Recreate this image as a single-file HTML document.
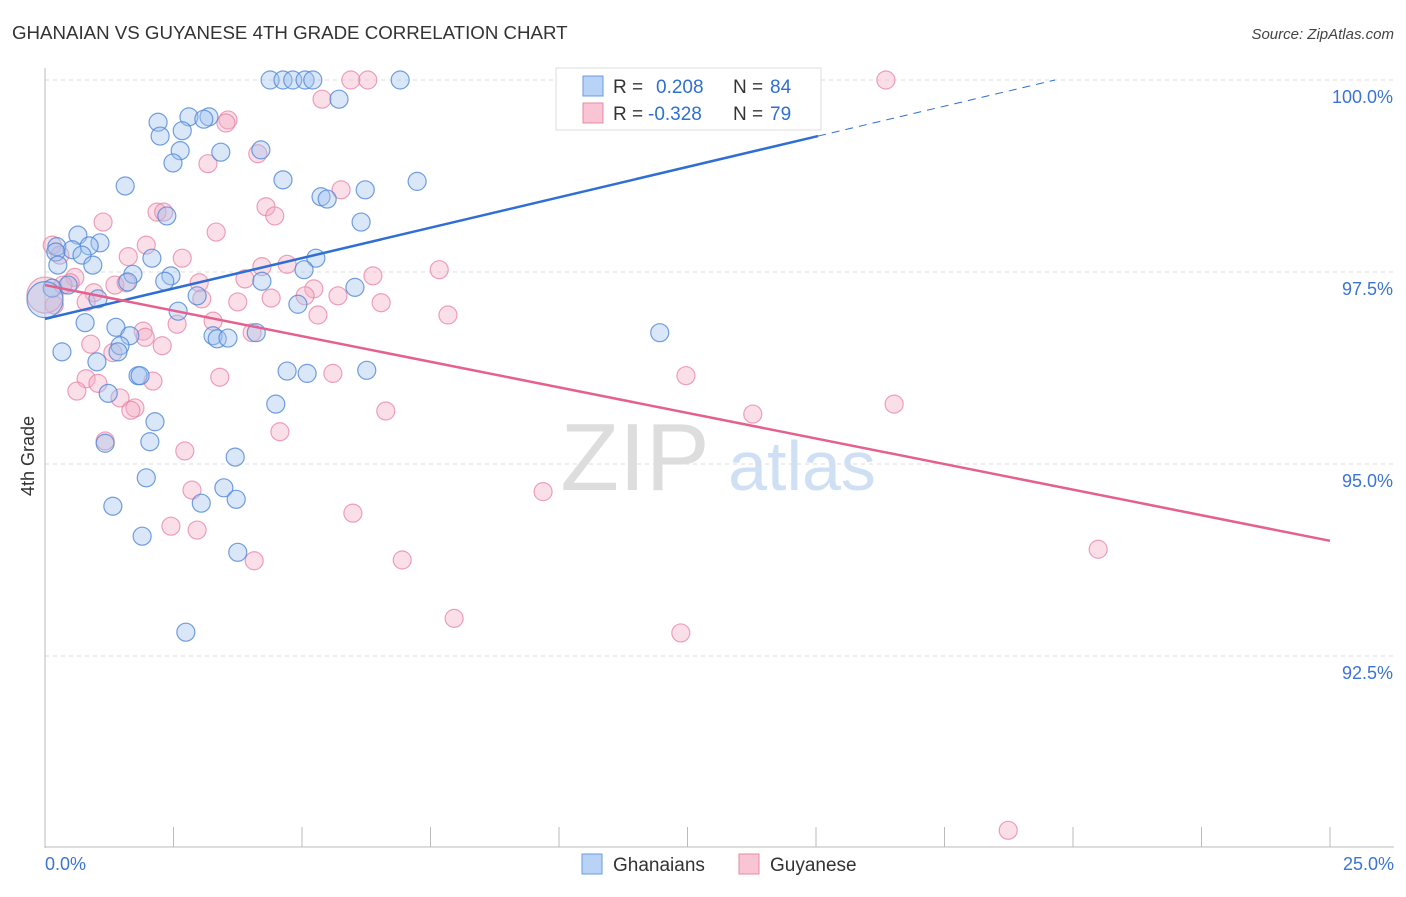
<!DOCTYPE html>
<html><head><meta charset="utf-8"><style>
body{margin:0;background:#fff;font-family:"Liberation Sans",sans-serif}
svg text{font-family:"Liberation Sans",sans-serif}
</style></head><body>
<svg id="chart" width="1406" height="892" xmlns="http://www.w3.org/2000/svg">
<text x="12" y="39" font-size="18.7" fill="#333">GHANAIAN VS GUYANESE 4TH GRADE CORRELATION CHART</text>
<text x="1394" y="39" font-size="15" fill="#444" text-anchor="end" font-style="italic">Source: ZipAtlas.com</text>
<g>
<text x="635" y="490" font-size="96" fill="#ddd" text-anchor="middle" font-family="Liberation Serif">ZIP</text>
<text x="802" y="490" font-size="70" fill="#cfe0f5" text-anchor="middle">atlas</text>
</g>
<g id="grid"></g><g id="xaxis"></g><g id="yaxis"></g>
<g id="pinkDots"></g><g id="blueDots"></g><g id="lines"></g>
<text transform="translate(34,456) rotate(-90)" font-size="18" fill="#333" text-anchor="middle">4th Grade</text>
<g>
<rect x="556" y="68" width="265" height="62" fill="#fff" stroke="#ddd"/>
<rect x="583" y="76" width="20" height="20" fill="#b8d3f5" stroke="#6a9be0"/>
<rect x="583" y="103" width="20" height="20" fill="#f9c4d4" stroke="#e88aa8"/>
<text x="613" y="93" font-size="19" fill="#333">R = </text><text x="656" y="93" font-size="19" fill="#2f6fd4">0.208</text>
<text x="733" y="93" font-size="19" fill="#333">N = </text><text x="770" y="93" font-size="19" fill="#2f6fd4">84</text>
<text x="613" y="120" font-size="19" fill="#333">R = </text><text x="648" y="120" font-size="19" fill="#2f6fd4">-0.328</text>
<text x="733" y="120" font-size="19" fill="#333">N = </text><text x="770" y="120" font-size="19" fill="#2f6fd4">79</text>
</g>
<g>
<rect x="582" y="854" width="20" height="20" fill="#b8d3f5" stroke="#6a9be0"/>
<text x="613" y="871" font-size="19" fill="#333">Ghanaians</text>
<rect x="739" y="854" width="20" height="20" fill="#f9c4d4" stroke="#e88aa8"/>
<text x="770" y="871" font-size="19" fill="#333">Guyanese</text>
</g>
</svg>
<script>
const blueX=[4.38,4.63,4.82,5.06,5.21,6.91,5.72,2.80,3.19,3.09,2.20,2.67,2.24,2.63,3.42,4.20,2.49,4.63,7.24,1.56,6.23,5.37,5.49,2.37,6.15,0.64,0.23,0.53,1.07,0.86,0.21,0.72,2.08,5.27,0.93,0.25,1.71,2.45,2.33,5.04,4.22,6.03,1.61,0.45,0.14,1.03,2.96,4.92,2.59,0.78,1.38,1.65,3.27,3.35,3.56,4.11,11.96,0.33,1.46,1.42,1.01,4.71,5.10,6.26,1.81,1.85,1.23,4.49,2.14,2.04,1.17,3.70,1.97,3.48,3.72,3.04,1.32,1.89,3.75,2.74,0.0];
const blueY=[100,100,100,100,100,100,99.75,99.52,99.52,99.49,99.45,99.34,99.27,99.08,99.06,99.09,98.92,98.70,98.68,98.62,98.57,98.48,98.45,98.23,98.15,97.98,97.83,97.79,97.88,97.84,97.76,97.72,97.68,97.68,97.59,97.59,97.47,97.45,97.38,97.53,97.38,97.30,97.37,97.33,97.29,97.15,97.19,97.08,96.99,96.84,96.78,96.67,96.67,96.63,96.64,96.71,96.71,96.46,96.54,96.46,96.33,96.21,96.18,96.22,96.15,96.15,95.92,95.78,95.55,95.29,95.27,95.09,94.82,94.69,94.54,94.49,94.45,94.06,93.85,92.81,97.14];
const pinkX=[5.95,6.28,16.36,5.39,3.56,3.52,4.14,3.17,5.76,4.30,2.18,2.31,4.47,1.13,3.33,0.14,1.97,0.29,1.62,2.67,4.22,4.71,7.67,6.38,3.89,3.00,0.58,0.49,0.35,1.36,1.58,5.23,0.95,5.70,5.06,4.40,3.05,3.75,6.54,0.80,0.18,5.31,7.84,3.27,2.57,1.91,4.03,1.95,0.89,2.28,1.32,3.40,5.60,12.47,0.80,1.03,2.10,0.62,1.46,1.75,1.67,6.63,13.77,16.52,4.57,1.17,2.72,2.86,9.69,5.99,2.45,2.96,4.07,6.95,20.49,7.96,12.37,18.74,0.0];
const pinkY=[100,100,100,99.75,99.48,99.44,99.04,98.91,98.57,98.35,98.28,98.28,98.23,98.15,98.02,97.85,97.85,97.72,97.70,97.68,97.57,97.60,97.53,97.45,97.41,97.36,97.43,97.36,97.33,97.33,97.36,97.28,97.23,97.19,97.19,97.16,97.15,97.11,97.10,97.11,97.07,96.94,96.94,96.86,96.82,96.73,96.71,96.65,96.56,96.54,96.45,96.13,96.18,96.15,96.11,96.05,96.08,95.95,95.86,95.73,95.70,95.69,95.65,95.78,95.42,95.30,95.17,94.66,94.64,94.36,94.19,94.14,93.74,93.75,93.89,92.99,92.80,90.23,97.20];
const blueTrend=[[0,96.89],[15.04,99.27],[19.65,100]];
const pinkTrend=[[0,97.33],[25,94.0]];
const yTicks=[100,97.5,95,92.5];
const yTickLabels=["100.0%","97.5%","95.0%","92.5%"];
const xTicks=[0,2.5,5,7.5,10,12.5,15,17.5,20,22.5,25];
const NS="http://www.w3.org/2000/svg";
const X=v=>45+v/25*1285, Y=v=>848-(v-90)*76.8;
function mk(t,a,p){const e=document.createElementNS(NS,t);for(const k in a)e.setAttribute(k,a[k]);document.getElementById(p).appendChild(e);return e;}
yTicks.forEach((t,i)=>{
 const g=mk('line',{x1:45,x2:1394,y1:Y(t),y2:Y(t),stroke:'#ddd','stroke-dasharray':'4,4'},'grid');
 
 
 const l=mk('text',{x:1393,y:Y(t)+23,'font-size':18,fill:'#3a74d6','text-anchor':'end'},'yaxis');
 l.textContent=yTickLabels[i];
 
 
});
const ax=mk('line',{x1:45,x2:45,y1:68,y2:848,stroke:'#bbb'},'yaxis');


const bx=mk('line',{x1:45,x2:1394,y1:847,y2:847,stroke:'#bbb'},'xaxis');


xTicks.forEach(t=>{
 const k=mk('line',{x1:X(t),x2:X(t),y1:827,y2:847,stroke:'#bbb'},'xaxis');
 
 
});
const x0=mk('text',{x:45,y:870,'font-size':18,fill:'#3a74d6'},'xaxis');x0.textContent='0.0%';


const x1=mk('text',{x:1394,y:870,'font-size':18,fill:'#3a74d6','text-anchor':'end'},'xaxis');x1.textContent='25.0%';


pinkX.forEach((v,i)=>{
 const big=(i===pinkX.length-1);
 const c=mk('circle',{cx:X(v),cy:Y(pinkY[i]),r:big?18:9,fill:'rgba(245,170,195,0.38)',stroke:'rgba(232,130,165,0.75)','stroke-width':1.2},'pinkDots');
 
 
});
blueX.forEach((v,i)=>{
 const big=(i===blueX.length-1);
 const c=mk('circle',{cx:X(v),cy:Y(blueY[i]),r:big?18:9,fill:'rgba(160,195,240,0.4)',stroke:'rgba(80,135,215,0.8)','stroke-width':1.2},'blueDots');
 
 
});
const bl=mk('line',{x1:X(blueTrend[0][0]),y1:Y(blueTrend[0][1]),x2:X(blueTrend[1][0]),y2:Y(blueTrend[1][1]),stroke:'#2f6fd4','stroke-width':2.5},'lines');


const bd=mk('line',{x1:X(blueTrend[1][0]),y1:Y(blueTrend[1][1]),x2:X(blueTrend[2][0]),y2:Y(blueTrend[2][1]),stroke:'#2f6fd4','stroke-width':1,'stroke-dasharray':'8,6'},'lines');


const pl=mk('line',{x1:X(pinkTrend[0][0]),y1:Y(pinkTrend[0][1]),x2:X(pinkTrend[1][0]),y2:Y(pinkTrend[1][1]),stroke:'#e4608e','stroke-width':2.5},'lines');


</script>
</body></html>
